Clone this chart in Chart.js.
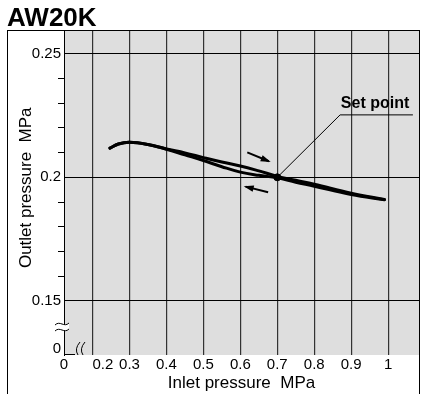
<!DOCTYPE html>
<html><head><meta charset="utf-8">
<script src="https://cdn.jsdelivr.net/npm/chart.js@4"></script>
<style>html,body{margin:0;padding:0;background:#fff}#wrap{width:424px;height:394px;position:relative}</style>
</head><body><div id="wrap"><canvas id="c" width="424" height="394"></canvas></div>
<script>
const chartTitle = 'AW20K';
const xTitle = 'Inlet pressure  MPa';
const yTitle = '  Outlet pressure  MPa';
const xMin = 0.1228, xMax = 1.0835;
const yMin = 0.128, yMax = 0.2597;
const xTickValues = [0.2, 0.3, 0.4, 0.5, 0.6, 0.7, 0.8, 0.9, 1.0];
const xTickLabels = ['     0.2', '0.3', '0.4', '0.5', '0.6', '0.7', '0.8', '0.9', '1'];
const yMajorTicks = [0.15, 0.2, 0.25];
const yMajorLabels = ['0.15', '0.2', '0.25'];
const yMinorTicks = [0.16, 0.17, 0.18, 0.19, 0.21, 0.22, 0.23, 0.24];
const zeroLabel = '0';
const yZeroTick = 0.1305;

// increasing inlet pressure (upper branch of loop)
const upInlet  = [0.247, 0.27, 0.3, 0.35, 0.4, 0.45, 0.5, 0.55, 0.6, 0.65, 0.7, 0.75, 0.8, 0.9, 0.99];
const upOutlet = [0.2118, 0.2135, 0.2142, 0.2133, 0.2115, 0.2099, 0.2080, 0.2062, 0.2046, 0.2026, 0.2004, 0.1988, 0.1972, 0.1936, 0.1910];
// decreasing inlet pressure (lower branch of loop)
const downInlet  = [0.247, 0.27, 0.3, 0.35, 0.4, 0.45, 0.5, 0.55, 0.6, 0.65, 0.7, 0.75, 0.8, 0.9, 0.99];
const downOutlet = [0.2118, 0.2135, 0.2142, 0.2133, 0.2114, 0.2091, 0.2068, 0.2043, 0.2021, 0.2008, 0.1998, 0.1980, 0.1964, 0.1930, 0.1909];

const setPoint = [0.7, 0.2];
const setPointLabel = 'Set point';
const setPointLabelPos = [0.9645, 0.2281];
const leaderX = [0.7, 0.870, 1.067];
const leaderY = [0.2, 0.2253, 0.2253];
const arrowUpX = [0.6187, 0.6771], arrowUpY = [0.2101, 0.2065];
const arrowDownX = [0.6752, 0.6144], arrowDownY = [0.19392, 0.19623];

const FONT = "'Liberation Sans', Arial, Helvetica, sans-serif";
const near = (a, b) => Math.abs(a - b) < 1e-6;
const isMajorY = v => yMajorTicks.some(t => near(t, v));
const isMinorY = v => yMinorTicks.some(t => near(t, v));
const pts = (xs, ys) => xs.map((x, i) => ({x, y: ys[i]}));

const decor = {
  id: 'decor',
  beforeDraw(chart) {
    const {ctx, chartArea: a} = chart;
    ctx.save();
    ctx.fillStyle = '#fff';
    ctx.fillRect(0, 0, chart.width, chart.height);
    ctx.fillStyle = '#dedede';
    ctx.fillRect(a.left, a.top, a.right - a.left, a.bottom - a.top);
    ctx.restore();
  },
  afterDatasetsDraw(chart) {
    const {ctx} = chart;
    ctx.save();
    ctx.fillStyle = '#000';
    [2, 3].forEach(di => {
      const meta = chart.getDatasetMeta(di);
      const p0 = meta.data[0], p1 = meta.data[1];
      const ang = Math.atan2(p1.y - p0.y, p1.x - p0.x);
      const L = 8, W = 3.2;
      ctx.beginPath();
      ctx.moveTo(p1.x + Math.cos(ang) * 2, p1.y + Math.sin(ang) * 2);
      ctx.lineTo(p1.x - Math.cos(ang) * L - Math.sin(ang) * W, p1.y - Math.sin(ang) * L + Math.cos(ang) * W);
      ctx.lineTo(p1.x - Math.cos(ang) * L + Math.sin(ang) * W, p1.y - Math.sin(ang) * L - Math.cos(ang) * W);
      ctx.closePath();
      ctx.fill();
    });
    const xs = chart.scales.x, ys = chart.scales.y;
    ctx.font = "bold 16px " + FONT;
    ctx.textAlign = 'center';
    ctx.textBaseline = 'alphabetic';
    ctx.fillText(setPointLabel, xs.getPixelForValue(setPointLabelPos[0]), ys.getPixelForValue(setPointLabelPos[1]));
    ctx.restore();
  },
  afterDraw(chart) {
    const {ctx, chartArea: a} = chart;
    ctx.save();
    // outer frame
    ctx.strokeStyle = '#000';
    ctx.lineWidth = 1;
    ctx.strokeRect(7.5, a.top + 0.5, a.right - 7, chart.height);
    // y-axis break symbol
    const by = a.bottom - 28, bx = a.left;
    ctx.fillStyle = '#fff';
    ctx.beginPath();
    ctx.moveTo(bx - 9, by - 2);
    ctx.bezierCurveTo(bx - 4, by - 7, bx + 0, by + 1, bx + 5, by - 4);
    ctx.lineTo(bx + 5, by + 2);
    ctx.bezierCurveTo(bx + 0, by + 7, bx - 4, by - 1, bx - 9, by + 4);
    ctx.closePath();
    ctx.fill();
    ctx.lineWidth = 1;
    ctx.strokeStyle = '#000';
    [-3, 3].forEach(d => {
      ctx.beginPath();
      ctx.moveTo(bx - 9, by + d + 1);
      ctx.bezierCurveTo(bx - 4, by + d - 4, bx + 0, by + d + 4, bx + 5, by + d - 1);
      ctx.stroke();
    });
    // x-axis stub and break
    ctx.beginPath();
    ctx.moveTo(a.left, a.bottom - 0.5);
    ctx.lineTo(a.left + 11, a.bottom - 0.5);
    ctx.stroke();
    [13, 18].forEach(d => {
      ctx.beginPath();
      ctx.moveTo(a.left + d + 3, a.bottom - 13);
      ctx.quadraticCurveTo(a.left + d - 3, a.bottom - 6, a.left + d + 1, a.bottom);
      ctx.stroke();
    });
    ctx.restore();
  }
};

new Chart(document.getElementById('c'), {
  type: 'scatter',
  data: {
    datasets: [
      {data: pts(upInlet, upOutlet), showLine: true, borderColor: '#000', borderWidth: 3, pointRadius: 0, tension: 0.4, borderCapStyle: 'round'},
      {data: pts(downInlet, downOutlet), showLine: true, borderColor: '#000', borderWidth: 3, pointRadius: 0, tension: 0.4, borderCapStyle: 'round'},
      {data: pts(arrowUpX, arrowUpY), showLine: true, borderColor: '#000', borderWidth: 2, pointRadius: 0, tension: 0},
      {data: pts(arrowDownX, arrowDownY), showLine: true, borderColor: '#000', borderWidth: 2, pointRadius: 0, tension: 0},
      {data: pts(leaderX, leaderY), showLine: true, borderColor: '#000', borderWidth: 1, pointRadius: 0, tension: 0},
      {data: [{x: setPoint[0], y: setPoint[1]}], showLine: false, pointRadius: 3.5, backgroundColor: '#000', borderColor: '#000'}
    ]
  },
  options: {
    responsive: false,
    animation: false,
    events: [],
    layout: {padding: {left: 7, right: 3, top: 0, bottom: 0}},
    plugins: {
      legend: {display: false},
      tooltip: {enabled: false},
      title: {
        display: true, text: chartTitle, align: 'start', color: '#000',
        font: {family: FONT, size: 26, weight: 'bold', lineHeight: 22 / 26},
        padding: {top: 8, bottom: 0}
      }
    },
    scales: {
      x: {
        type: 'linear', min: xMin, max: xMax,
        afterBuildTicks: s => { s.ticks = [{value: xMin}].concat(xTickValues.map(v => ({value: v}))); },
        afterFit: s => { s.height = 39; },
        ticks: {
          autoSkip: false, maxRotation: 0, padding: 1, color: '#000',
          font: {family: FONT, size: 15},
          callback: (v, i) => i === 0 ? zeroLabel : xTickLabels[i - 1]
        },
        grid: {
          drawTicks: false, lineWidth: 1.2,
          color: c => (c.tick && near(c.tick.value, xMin)) ? 'rgba(0,0,0,0)' : '#333'
        },
        border: {display: false},
        title: {display: true, text: xTitle, color: '#000', font: {family: FONT, size: 17}, padding: {top: 0, bottom: 0}}
      },
      y: {
        type: 'linear', min: yMin, max: yMax,
        afterBuildTicks: s => {
          const vals = [yZeroTick].concat(yMajorTicks, yMinorTicks).sort((a, b) => a - b);
          s.ticks = vals.map(v => ({value: v}));
        },
        afterFit: s => { s.width = 57; },
        ticks: {
          autoSkip: false, padding: -3, color: '#000',
          font: {family: FONT, size: 15},
          callback: v => {
            if (near(v, yZeroTick)) return zeroLabel;
            const k = yMajorTicks.findIndex(t => near(t, v));
            return k >= 0 ? yMajorLabels[k] : '';
          }
        },
        grid: {
          tickLength: 6, lineWidth: 1,
          color: c => (c.tick && isMajorY(c.tick.value)) ? '#000' : 'rgba(0,0,0,0)',
          tickColor: c => (c.tick && isMinorY(c.tick.value)) ? '#000' : 'rgba(0,0,0,0)'
        },
        border: {display: true, color: '#000', width: 1},
        title: {display: true, text: yTitle, color: '#000', font: {family: FONT, size: 17}, padding: {top: 9, bottom: 0}}
      }
    }
  },
  plugins: [decor]
});
</script></body></html>
